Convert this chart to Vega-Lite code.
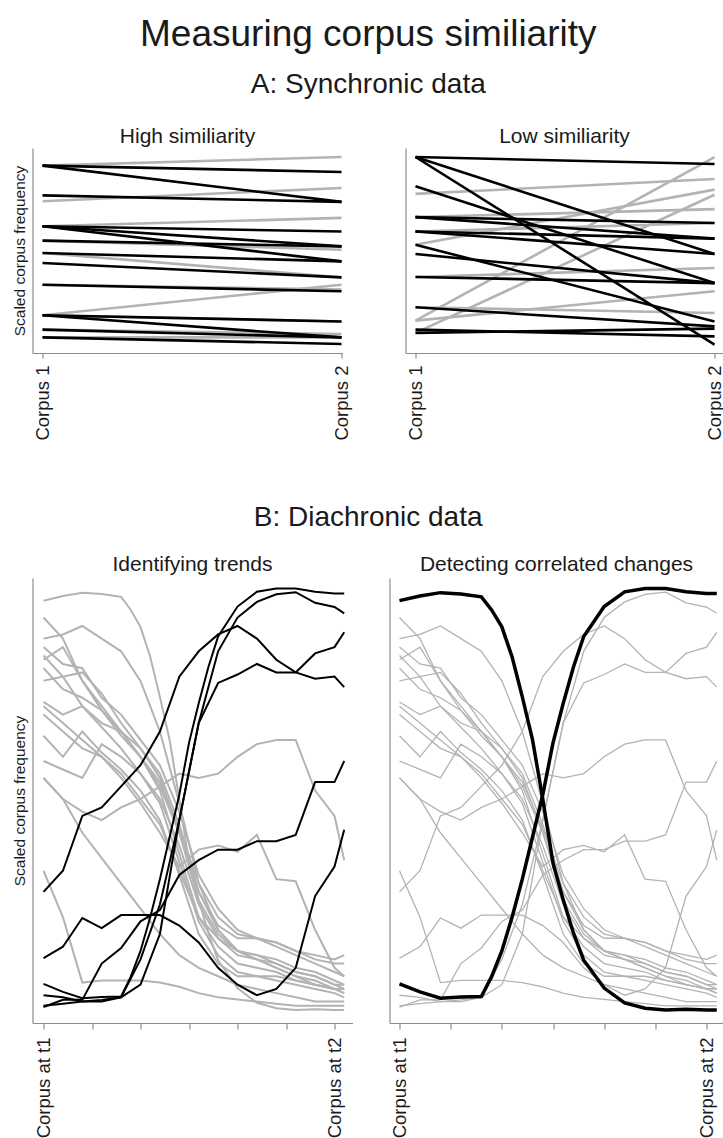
{
  "$schema": "https://vega.github.io/schema/vega-lite/v6.json",
  "background": "white",
  "padding": {"left": 12.5, "right": 0, "top": 16, "bottom": 0},
  "config": {
    "font": "Liberation Sans",
    "view": {"stroke": null},
    "axis": {"grid": false, "domainColor": "#8c8c8c", "tickColor": "#8c8c8c", "domainWidth": 1.2, "tickWidth": 1.2, "labelColor": "#1a1a1a", "titleColor": "#1a1a1a", "labelFont": "Liberation Sans", "titleFont": "Liberation Sans", "titleFontWeight": "normal", "labelFontSize": 18.5, "titleFontSize": 15.5},
    "title": {"font": "Liberation Sans", "fontWeight": "normal", "color": "#1a1a1a"}
  },
  "title": {"text": "Measuring corpus similiarity", "fontSize": 37, "anchor": "middle", "offset": 17},
  "datasets": {
    "syn": [
      {"panel": "high", "id": "h1", "col": "grey", "x": [1, 2], "y": [91.4, 95.6]},
      {"panel": "high", "id": "h2", "col": "black", "x": [1, 2], "y": [91.4, 88.3]},
      {"panel": "high", "id": "h3", "col": "black", "x": [1, 2], "y": [91.4, 73.7]},
      {"panel": "high", "id": "h4", "col": "black", "x": [1, 2], "y": [76.9, 73.7]},
      {"panel": "high", "id": "h5", "col": "grey", "x": [1, 2], "y": [74.0, 80.5]},
      {"panel": "high", "id": "h6", "col": "grey", "x": [1, 2], "y": [61.8, 65.9]},
      {"panel": "high", "id": "h7", "col": "black", "x": [1, 2], "y": [61.8, 59.3]},
      {"panel": "high", "id": "h8", "col": "black", "x": [1, 2], "y": [61.8, 52.0]},
      {"panel": "high", "id": "h9", "col": "black", "x": [1, 2], "y": [61.8, 44.7]},
      {"panel": "high", "id": "h10", "col": "grey", "x": [1, 2], "y": [54.8, 50.4]},
      {"panel": "high", "id": "h11", "col": "black", "x": [1, 2], "y": [54.8, 52.0]},
      {"panel": "high", "id": "h12", "col": "grey", "x": [1, 2], "y": [48.8, 36.9]},
      {"panel": "high", "id": "h13", "col": "black", "x": [1, 2], "y": [48.8, 44.7]},
      {"panel": "high", "id": "h14", "col": "black", "x": [1, 2], "y": [43.9, 36.9]},
      {"panel": "high", "id": "h15", "col": "grey", "x": [1, 2], "y": [33.3, 31.0]},
      {"panel": "high", "id": "h16", "col": "black", "x": [1, 2], "y": [33.3, 30.1]},
      {"panel": "high", "id": "h17", "col": "grey", "x": [1, 2], "y": [18.4, 33.3]},
      {"panel": "high", "id": "h18", "col": "grey", "x": [1, 2], "y": [18.4, 15.4]},
      {"panel": "high", "id": "h19", "col": "black", "x": [1, 2], "y": [18.4, 15.4]},
      {"panel": "high", "id": "h20", "col": "black", "x": [1, 2], "y": [18.4, 7.6]},
      {"panel": "high", "id": "h21", "col": "grey", "x": [1, 2], "y": [11.4, 9.3]},
      {"panel": "high", "id": "h22", "col": "black", "x": [1, 2], "y": [11.4, 7.6]},
      {"panel": "high", "id": "h23", "col": "grey", "x": [1, 2], "y": [7.6, 7.6]},
      {"panel": "high", "id": "h24", "col": "black", "x": [1, 2], "y": [7.6, 4.4]},
      {"panel": "low", "id": "l1", "col": "black", "x": [1, 2], "y": [95.6, 92.2]},
      {"panel": "low", "id": "l2", "col": "black", "x": [1, 2], "y": [95.6, 48.3]},
      {"panel": "low", "id": "l3", "col": "black", "x": [1, 2], "y": [95.6, 4.1]},
      {"panel": "low", "id": "l4", "col": "black", "x": [1, 2], "y": [81.3, 34.1]},
      {"panel": "low", "id": "l5", "col": "grey", "x": [1, 2], "y": [77.6, 84.9]},
      {"panel": "low", "id": "l6", "col": "grey", "x": [1, 2], "y": [66.3, 70.2]},
      {"panel": "low", "id": "l7", "col": "black", "x": [1, 2], "y": [66.3, 55.8]},
      {"panel": "low", "id": "l8", "col": "black", "x": [1, 2], "y": [59.3, 48.3]},
      {"panel": "low", "id": "l9", "col": "grey", "x": [1, 2], "y": [59.3, 63.4]},
      {"panel": "low", "id": "l10", "col": "black", "x": [1, 2], "y": [59.3, 55.8]},
      {"panel": "low", "id": "l11", "col": "grey", "x": [1, 2], "y": [52.8, 79.7]},
      {"panel": "low", "id": "l12", "col": "black", "x": [1, 2], "y": [52.8, 15.4]},
      {"panel": "low", "id": "l13", "col": "black", "x": [1, 2], "y": [48.3, 34.1]},
      {"panel": "low", "id": "l14", "col": "black", "x": [1, 2], "y": [37.1, 34.1]},
      {"panel": "low", "id": "l15", "col": "grey", "x": [1, 2], "y": [37.1, 41.5]},
      {"panel": "low", "id": "l16", "col": "black", "x": [1, 2], "y": [22.3, 13.0]},
      {"panel": "low", "id": "l17", "col": "grey", "x": [1, 2], "y": [22.3, 19.5]},
      {"panel": "low", "id": "l18", "col": "grey", "x": [1, 2], "y": [15.8, 95.6]},
      {"panel": "low", "id": "l19", "col": "grey", "x": [1, 2], "y": [15.8, 30.1]},
      {"panel": "low", "id": "l20", "col": "black", "x": [1, 2], "y": [11.4, 8.1]},
      {"panel": "low", "id": "l21", "col": "grey", "x": [1, 2], "y": [9.8, 77.2]},
      {"panel": "low", "id": "l22", "col": "black", "x": [1, 2], "y": [9.8, 11.9]},
      {"panel": "low", "id": "l23", "col": "black", "x": [1, 2], "y": [66.3, 63.4]}
    ],
    "dia": [
      {"id": "G1", "g": "grey", "hl": true, "t": [0,4,8,12,16,18,20,22,24,26,28,30,32,34,36,40,44,48,52,56,60,62], "v": [0.970,0.981,0.989,0.986,0.979,0.948,0.908,0.837,0.742,0.640,0.500,0.348,0.261,0.182,0.118,0.052,0.017,0.004,0.0,0.002,0.0,0.0]},
      {"id": "K2", "g": "black", "hl": true, "t": [0,4,8,12,16,18,20,22,24,26,28,30,32,34,36,40,44,48,52,56,60,62], "v": [0.062,0.043,0.028,0.031,0.032,0.079,0.14,0.22,0.31,0.41,0.51,0.633,0.727,0.813,0.885,0.956,0.991,0.999,0.999,0.991,0.987,0.987]},
      {"id": "G2", "g": "grey", "hl": false, "t": [0,4,8,12,16,20,24,28,32,36,40,44,48,52,56,60,62], "v": [0.93,0.88,0.78,0.72,0.66,0.60,0.53,0.42,0.28,0.19,0.14,0.12,0.10,0.08,0.06,0.05,0.04]},
      {"id": "G3", "g": "grey", "hl": false, "t": [0,4,8,12,16,20,24,28,32,36,40,44,48,52,56,60,62], "v": [0.88,0.89,0.91,0.88,0.85,0.78,0.66,0.49,0.30,0.19,0.14,0.12,0.10,0.08,0.07,0.05,0.05]},
      {"id": "G4", "g": "grey", "hl": false, "t": [0,4,8,12,16,20,24,28,32,36,40,44,48,52,56,60,62], "v": [0.86,0.82,0.81,0.74,0.70,0.64,0.58,0.47,0.32,0.24,0.19,0.17,0.15,0.13,0.11,0.09,0.08]},
      {"id": "G5", "g": "grey", "hl": false, "t": [0,4,8,12,16,20,24,28,32,36,40,44,48,52,56,60,62], "v": [0.84,0.79,0.80,0.75,0.68,0.62,0.55,0.42,0.26,0.18,0.14,0.13,0.11,0.09,0.08,0.06,0.05]},
      {"id": "G6", "g": "grey", "hl": false, "t": [0,4,8,12,16,20,24,28,32,36,40,44,48,52,56,60,62], "v": [0.83,0.86,0.78,0.71,0.66,0.60,0.52,0.37,0.22,0.15,0.11,0.10,0.09,0.07,0.06,0.05,0.04]},
      {"id": "G7", "g": "grey", "hl": false, "t": [0,4,8,12,16,20,24,28,32,36,40,44,48,52,56,60,62], "v": [0.81,0.76,0.74,0.71,0.65,0.60,0.54,0.43,0.30,0.22,0.18,0.17,0.16,0.14,0.12,0.11,0.11]},
      {"id": "G8", "g": "grey", "hl": false, "t": [0,4,8,12,16,20,24,28,32,36,40,44,48,52,56,60,62], "v": [0.78,0.79,0.72,0.67,0.62,0.56,0.49,0.35,0.21,0.13,0.09,0.08,0.07,0.06,0.05,0.04,0.03]},
      {"id": "G9", "g": "grey", "hl": false, "t": [0,4,8,12,16,20,24,28,32,36,40,44,48,52,56,60,62], "v": [0.73,0.70,0.72,0.68,0.66,0.62,0.56,0.44,0.28,0.20,0.17,0.17,0.16,0.14,0.13,0.12,0.13]},
      {"id": "G10", "g": "grey", "hl": false, "t": [0,4,8,12,16,20,24,28,32,36,40,44,48,52,56,60,62], "v": [0.65,0.60,0.66,0.61,0.57,0.52,0.45,0.32,0.18,0.11,0.08,0.08,0.08,0.07,0.06,0.05,0.05]},
      {"id": "G11", "g": "grey", "hl": false, "t": [0,4,8,12,16,20,24,28,32,36,40,44,48,52,56,60,62], "v": [0.59,0.57,0.55,0.63,0.60,0.56,0.50,0.39,0.25,0.17,0.13,0.12,0.11,0.09,0.08,0.06,0.06]},
      {"id": "G12", "g": "grey", "hl": false, "t": [0,4,8,12,16,20,24,28,32,36,40,44,48,52,56,60,62], "v": [0.55,0.50,0.42,0.36,0.30,0.24,0.18,0.13,0.10,0.08,0.06,0.05,0.04,0.03,0.02,0.02,0.02]},
      {"id": "G13", "g": "grey", "hl": false, "t": [0,4,8,12,16,20,24,28,32,36,40,44,48,52,56,60,62], "v": [0.70,0.66,0.62,0.60,0.56,0.50,0.44,0.33,0.22,0.17,0.14,0.13,0.12,0.10,0.09,0.07,0.06]},
      {"id": "G14", "g": "grey", "hl": false, "t": [0,4,8,12,16,20,24,28,32,36,40,44,48,52,56,60,62], "v": [0.33,0.22,0.065,0.07,0.07,0.07,0.065,0.055,0.04,0.03,0.025,0.02,0.015,0.01,0.01,0.01,0.01]},
      {"id": "G15", "g": "grey", "hl": false, "t": [0,4,8,12,16,20,24,28,32,36,40,44,48,52,56,60,62], "v": [0.55,0.50,0.47,0.45,0.48,0.50,0.53,0.56,0.55,0.56,0.60,0.63,0.64,0.64,0.52,0.46,0.355]},
      {"id": "G16", "g": "grey", "hl": false, "t": [0,4,8,12,16,20,24,28,32,36,40,44,48,52,56,60,62], "v": [0.72,0.68,0.64,0.60,0.55,0.49,0.42,0.34,0.38,0.39,0.375,0.415,0.31,0.305,0.19,0.10,0.08]},
      {"id": "K1", "g": "black", "hl": false, "t": [0,4,8,12,16,20,24,28,32,36,40,44,48,52,56,60,62], "v": [0.28,0.33,0.46,0.48,0.53,0.58,0.66,0.79,0.85,0.89,0.91,0.88,0.83,0.80,0.785,0.79,0.765]},
      {"id": "K3", "g": "black", "hl": false, "t": [0,4,8,12,16,20,24,28,32,36,40,44,48,52,56,60,62], "v": [0.01,0.015,0.02,0.024,0.03,0.12,0.25,0.45,0.68,0.85,0.93,0.967,0.985,0.99,0.965,0.955,0.94]},
      {"id": "K4", "g": "black", "hl": false, "t": [0,4,8,12,16,20,24,28,32,36,40,44,48,52,56,60,62], "v": [0.035,0.03,0.02,0.02,0.03,0.06,0.18,0.45,0.68,0.775,0.795,0.82,0.80,0.80,0.845,0.86,0.895]},
      {"id": "K5", "g": "black", "hl": false, "t": [0,4,8,12,16,20,24,28,32,36,40,44,48,52,56,60,62], "v": [0.007,0.024,0.024,0.11,0.147,0.21,0.237,0.32,0.355,0.38,0.38,0.40,0.40,0.415,0.54,0.54,0.59]},
      {"id": "K6", "g": "black", "hl": false, "t": [0,4,8,12,16,20,24,28,32,36,40,44,48,52,56,60,62], "v": [0.123,0.15,0.218,0.194,0.225,0.225,0.225,0.20,0.16,0.10,0.06,0.035,0.05,0.10,0.27,0.34,0.427]}
    ]
  },
  "spacing": 63,
  "vconcat": [
    {
      "title": {"text": "A: Synchronic data", "fontSize": 28, "anchor": "middle", "offset": 27},
      "spacing": 54,
      "hconcat": [
        {
          "width": 310, "height": 205,
          "title": {"text": "High similiarity", "fontSize": 21, "offset": 1},
          "data": {"name": "syn"},
          "transform": [{"filter": "datum.panel == 'high'"}, {"flatten": ["x", "y"]}],
          "encoding": {
            "x": {"field": "x", "type": "quantitative", "scale": {"domain": [0.9666, 2.0033], "nice": false, "zero": false},
                  "axis": {"values": [1, 2], "labelExpr": "datum.value == 1 ? 'Corpus 1' : 'Corpus 2'", "labelAngle": -90, "labelPadding": 7, "tickSize": 5, "title": null}},
            "y": {"field": "y", "type": "quantitative", "scale": {"domain": [0, 100], "nice": false, "zero": false},
                  "axis": {"ticks": false, "labels": false, "title": "Scaled corpus frequency", "titlePadding": 5}},
            "detail": {"field": "id"}
          },
          "layer": [
            {"transform": [{"filter": "datum.col == 'grey'"}], "mark": {"type": "line", "color": "#b3b3b3", "strokeWidth": 2.6}},
            {"transform": [{"filter": "datum.col == 'black'"}], "mark": {"type": "line", "color": "#000000", "strokeWidth": 2.6}}
          ]
        },
        {
          "width": 318, "height": 205,
          "title": {"text": "Low similiarity", "fontSize": 21, "offset": 1},
          "data": {"name": "syn"},
          "transform": [{"filter": "datum.panel == 'low'"}, {"flatten": ["x", "y"]}],
          "encoding": {
            "x": {"field": "x", "type": "quantitative", "scale": {"domain": [0.9666, 2.030], "nice": false, "zero": false},
                  "axis": {"values": [1, 2], "labelExpr": "datum.value == 1 ? 'Corpus 1' : 'Corpus 2'", "labelAngle": -90, "labelPadding": 7, "tickSize": 5, "title": null}},
            "y": {"field": "y", "type": "quantitative", "scale": {"domain": [0, 100], "nice": false, "zero": false},
                  "axis": {"ticks": false, "labels": false, "title": null}},
            "detail": {"field": "id"}
          },
          "layer": [
            {"transform": [{"filter": "datum.col == 'grey'"}], "mark": {"type": "line", "color": "#b3b3b3", "strokeWidth": 2.6}},
            {"transform": [{"filter": "datum.col == 'black'"}], "mark": {"type": "line", "color": "#000000", "strokeWidth": 2.6}}
          ]
        }
      ]
    },
    {
      "title": {"text": "B: Diachronic data", "fontSize": 28, "anchor": "middle", "offset": 22},
      "spacing": 37,
      "hconcat": [
        {
          "width": 320, "height": 445,
          "title": {"text": "Identifying trends", "fontSize": 21, "offset": 3},
          "data": {"name": "dia"},
          "transform": [{"flatten": ["t", "v"]}],
          "encoding": {
            "x": {"field": "t", "type": "quantitative", "scale": {"domain": [-2.27, 63.71], "nice": false, "zero": false},
                  "axis": {"values": [0, 10, 20, 30, 40, 50, 60], "labelExpr": "datum.value == 0 ? 'Corpus at t1' : datum.value == 60 ? 'Corpus at t2' : ''", "labelAngle": -90, "labelPadding": 8, "tickSize": 6, "title": null}},
            "y": {"field": "v", "type": "quantitative", "scale": {"domain": [-0.0308, 1.0237], "nice": false, "zero": false},
                  "axis": {"ticks": false, "labels": false, "title": "Scaled corpus frequency", "titlePadding": 5}},
            "detail": {"field": "id"}
          },
          "layer": [
            {"transform": [{"filter": "datum.g == 'grey'"}], "mark": {"type": "line", "color": "#b3b3b3", "strokeWidth": 2}},
            {"transform": [{"filter": "datum.g == 'black'"}], "mark": {"type": "line", "color": "#000000", "strokeWidth": 2}}
          ]
        },
        {
          "width": 334, "height": 445,
          "title": {"text": "Detecting correlated changes", "fontSize": 21, "offset": 3},
          "data": {"name": "dia"},
          "transform": [{"flatten": ["t", "v"]}],
          "encoding": {
            "x": {"field": "t", "type": "quantitative", "scale": {"domain": [-1.954, 63.32], "nice": false, "zero": false},
                  "axis": {"values": [0, 10, 20, 30, 40, 50, 60], "labelExpr": "datum.value == 0 ? 'Corpus at t1' : datum.value == 60 ? 'Corpus at t2' : ''", "labelAngle": -90, "labelPadding": 8, "tickSize": 6, "title": null}},
            "y": {"field": "v", "type": "quantitative", "scale": {"domain": [-0.0308, 1.0237], "nice": false, "zero": false},
                  "axis": {"ticks": false, "labels": false, "title": null}},
            "detail": {"field": "id"}
          },
          "layer": [
            {"mark": {"type": "line", "color": "#b3b3b3", "strokeWidth": 1.3}},
            {"transform": [{"filter": "datum.hl"}], "mark": {"type": "line", "color": "#000000", "strokeWidth": 3.5}}
          ]
        }
      ]
    }
  ]
}
